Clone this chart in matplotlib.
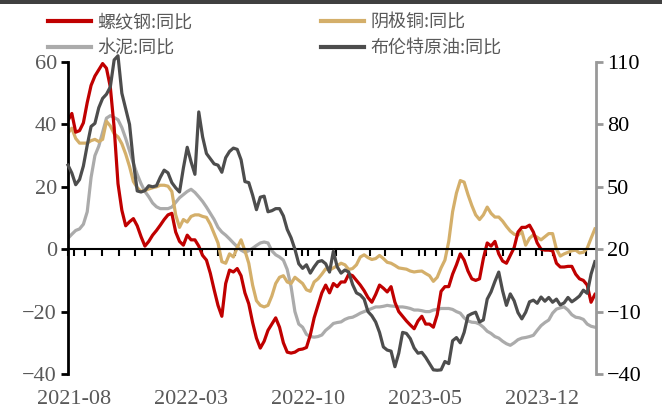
import matplotlib
matplotlib.use("Agg")
import matplotlib.pyplot as plt
import matplotlib.dates as mdates
from matplotlib.patches import Rectangle
import pandas as pd

# Weekly year-on-year changes (%)
start_date = "2021-08-01"
end_date = "2024-03-19"

rebar_yoy = [
    41.3, 43.5, 37.5, 38, 40.5, 47, 52.5, 55.5, 57.5, 59.5,
    58, 52, 39, 21, 12.5, 7.5, 8.8, 9.8, 7.5, 4,
    1, 2.5, 4.5, 6, 7.7, 9.5, 11, 11.5, 5.5, 2.5,
    1.3, 4.5, 3, 3, 1, -2, -3.5, -7.7, -13, -18,
    -21.5, -11, -6.7, -7.3, -6.2, -8.5, -14, -17.5, -23.5, -28.5,
    -31.7, -29.5, -26, -24, -22, -25, -30, -33, -33.3, -33,
    -32.2, -32, -31.5, -27.5, -22, -18, -14, -11.5, -14, -11,
    -12, -10.5, -10.5, -8, -8.5, -10, -11.5, -13.3, -15.5, -17,
    -14.5, -11.5, -12.5, -13.7, -12, -17, -20, -21.5, -23, -24.3,
    -25.5, -23, -21.5, -24, -24, -25, -21, -13.5, -12, -12,
    -8, -5, -1.5, -3.5, -7, -9.5, -10, -9.5, -3, 2,
    1, 2.5, -1.5, -3.8, -4.5, -2, 0.5, 5.5, 7, 7,
    7.7, 5.5, 2, 0, -0.3, -0.3, -0.5, -4.5, -5.7, -5.7,
    -5.5, -5.5, -8, -9.5, -10, -11.5, -17, -14.5,
]

copper_yoy = [
    37.2, 38.8, 35.5, 34, 34, 34, 34.8, 35.2, 34.5, 35.2,
    41, 39.5, 37, 36, 33.8, 30.5, 26.5, 21.7, 19.7, 18.5,
    18.8, 19.3, 19.7, 20, 20.5, 20.5, 20.2, 18.5, 11, 7,
    9.5, 8.7, 10.5, 11, 11, 10.5, 10.2, 8, 5, 2,
    -4, -4.5, -1.5, -2.5, 0.5, 3, -0.5, -4.5, -11.5, -16.5,
    -18, -18.5, -18, -15, -11, -9, -8.5, -10.5, -11, -9,
    -10, -11, -13, -13.5, -10.5, -9.5, -8, -6.3, -6.7, -6,
    -5.3, -4.5, -5, -6.5, -6.2, -5, -2.5, -1.8, -2.7, -3.3,
    -3, -2, -3, -4.2, -4.5, -5.2, -6, -6.2, -6.4, -7,
    -7.3, -7.1, -7, -7.8, -8.5, -10.3, -9, -6, -3.5, 2.5,
    12, 18, 22, 21.5, 17.5, 14, 11, 9.5, 11, 13.5,
    11.5, 10.3, 10.3, 9, 7.3, 5.8, 4.8, 4.5, 5.7, 1.3,
    3.5, 4.6, 3.8, 3, 4, 5, 5, 0, -2.2, -1.5,
    -1, -0.5, -0.3, -1.2, -1, 0.3, 3.5, 6.5,
]

cement_yoy = [
    3.5, 4.8, 6, 6.5, 8, 12, 23, 30, 33, 37.5,
    42, 42.8, 42.2, 41.5, 39, 35.5, 31.5, 27.5, 24, 21,
    18.5, 16.8, 14.8, 13.6, 13, 13, 13, 13.5, 15, 16.5,
    17.5, 18.5, 19.2, 18.2, 16.8, 15.3, 13.5, 11.5, 9.5, 7,
    5.5, 4.5, 3.3, 2, 0.8, -0.3, -1, -0.5, 0.3, 1.2,
    2, 2.3, 2, -0.5, -1.8, -2.5, -3.5, -6.5, -12, -20,
    -24, -25, -27.3, -28, -28.2, -28, -27.5, -26, -25, -23.8,
    -23.5, -23.3, -22.5, -22, -21.8, -21.2, -20.5, -20, -19.5, -19,
    -18.5, -18.5, -18.3, -18, -18.2, -18.3, -18.5, -18.5, -18.7, -19,
    -19.5, -19.5, -19.7, -20, -20, -19.5, -19.3, -19, -19, -19,
    -19.3, -20, -20.5, -22, -23, -23.4, -23.5, -24, -25, -26.3,
    -27, -28, -28.5, -29.5, -30.3, -30.8, -30, -29, -28.5, -28.3,
    -28, -27.6, -26, -24.5, -23.5, -22.7, -20.5, -19.2, -18.8, -18.5,
    -19.5, -21, -21.8, -22, -22.5, -24, -24.7, -25,
]

brent_yoy = [
    60.4, 56.6, 51, 53.5, 60, 70, 79, 80.5, 88, 92.5,
    94.5, 98, 111, 113, 95, 87.5, 80, 62, 48, 47.5,
    48.2, 50.5, 50, 50.5, 54.6, 58, 56.7, 52, 49.5, 47.5,
    59, 69, 62, 56, 86, 74, 66, 63.5, 61, 60.4,
    57, 64, 67, 68.6, 68, 63, 52.5, 52, 46, 39,
    45, 45.5, 38, 38.5, 39.5, 39.5, 36, 29.5, 25.5, 20,
    13, 10.8, 12.5, 8.5, 11.5, 14, 14.5, 13, 9, 19,
    11.5, 8.5, 10, 9, 3, -1, -2, -4, -10, -12,
    -15, -20, -27, -28.5, -29, -36.5, -30, -20, -20.5, -23,
    -27.5, -30, -29.6, -32, -35, -38, -38.2, -38, -34, -35,
    -24, -22.5, -25, -20, -12, -11, -10.3, -15, -14, -4,
    -0.5, 4.5, 9, 0, -7, -1.5, -4.8, -10.5, -13.5, -10.3,
    -5.3, -4.5, -6, -3, -5, -3.2, -5.5, -4, -6.8, -5.8,
    -3.2, -5.3, -4, -2.5, 0.3, -1.2, 8, 14,
]

date_labels = ["2021-08", "2022-03", "2022-10", "2023-05", "2023-12"]
left_ticks = [-40, -20, 0, 20, 40, 60]
right_ticks = [-40, -10, 20, 50, 80, 110]

series_names = ["螺纹钢:同比", "阴极铜:同比", "水泥:同比", "布伦特原油:同比"]
colors = {"rebar": "#C00000", "copper": "#D4AF6A", "cement": "#ABABAB", "brent": "#4D4D4D"}

dates = pd.date_range(start_date, periods=len(rebar_yoy), freq="7D")

serif = "Liberation Serif"
cjk = ["Noto Sans CJK SC", "DejaVu Sans"]
tick_size = 16
gray_text = "#595959"

fig = plt.figure(figsize=(6.62, 4.12), dpi=100)
ax = fig.add_axes([68 / 662, 38 / 412, 528 / 662, 312 / 412])
ax2 = ax.twinx()

lw = 2.3
l_cement, = ax.plot(dates, cement_yoy, color=colors["cement"], lw=lw)
l_copper, = ax.plot(dates, copper_yoy, color=colors["copper"], lw=lw)
l_rebar, = ax.plot(dates, rebar_yoy, color=colors["rebar"], lw=lw)
l_brent, = ax2.plot(dates, brent_yoy, color=colors["brent"], lw=lw, clip_on=False)

ax.set_xlim(pd.Timestamp(start_date), pd.Timestamp(end_date))
ax.set_ylim(-40, 60)
ax2.set_ylim(-40, 110)
ax.set_yticks(left_ticks)
ax2.set_yticks(right_ticks)

# x axis: monthly ticks on the zero line, labels along the bottom
label_pos = mdates.datestr2num(date_labels)
ax.xaxis.set_major_locator(matplotlib.ticker.FixedLocator(label_pos))
ax.xaxis.set_minor_locator(mdates.MonthLocator())
ax.xaxis.set_major_formatter(matplotlib.ticker.FixedFormatter(date_labels))

ax.spines["top"].set_visible(False)
ax.spines["right"].set_visible(False)
ax.spines["bottom"].set_position(("data", 0))
ax.spines["bottom"].set_linewidth(1.5)
ax.spines["bottom"].set_color("black")
ax.spines["left"].set_linewidth(2)
ax.spines["left"].set_color("black")
ax.tick_params(axis="x", which="both", direction="out", length=5, width=1.5,
               color="black", labelbottom=False)
ax.tick_params(axis="y", direction="out", length=5, width=2, color="black",
               labelcolor=gray_text, labelsize=tick_size, pad=3)

for s in ["top", "left", "bottom"]:
    ax2.spines[s].set_visible(False)
ax2.spines["right"].set_linewidth(2)
ax2.spines["right"].set_color("#999999")
ax2.tick_params(axis="y", direction="out", length=5, width=2, color="#999999",
                labelcolor="black", labelsize=tick_size, pad=3)
ax2.xaxis.set_visible(True)
ax2.tick_params(axis="x", which="both", length=0, labelbottom=True, labeltop=False,
                labelsize=tick_size, labelcolor=gray_text, pad=11.5)

for lab in ax.get_yticklabels() + ax2.get_yticklabels() + ax2.get_xticklabels():
    lab.set_fontfamily(serif)

leg = fig.legend([l_rebar, l_cement, l_copper, l_brent],
                 [series_names[0], series_names[2], series_names[1], series_names[3]],
                 ncol=2, loc="upper left", bbox_to_anchor=(48 / 662, 0.967),
                 frameon=False, borderpad=0, borderaxespad=0,
                 handlelength=2.4, handletextpad=0.35, columnspacing=7.1,
                 labelspacing=0.45, prop={"family": cjk, "size": 13})
for t in leg.get_texts():
    t.set_color(gray_text)
for h in leg.legend_handles:
    h.set_linewidth(3)

# dark rule along the top edge
fig.add_artist(Rectangle((0, 1 - 4 / 412), 1, 4 / 412, transform=fig.transFigure,
                         color="#404040", lw=0))

fig.savefig("out.png", dpi=100)
